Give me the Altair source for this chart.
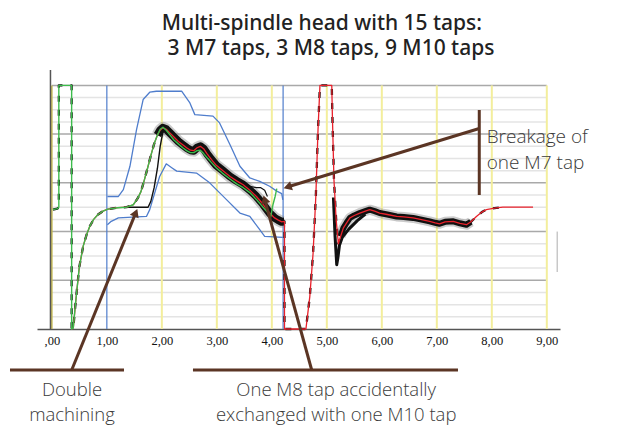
import math
import altair as alt
import pandas as pd

# ---------------- data ----------------
title_lines = ["Multi-spindle head with 15 taps:", "3 M7 taps, 3 M8 taps, 9 M10 taps"]
x_ticks = [0, 1, 2, 3, 4, 5, 6, 7, 8, 9]
yellow_lines = [0, 2, 3, 4, 5, 6, 7, 8, 9]
blue_lines = [1.0, 4.205]
minor_grid = [0.25, 0.5, 0.75, 1.25, 1.5, 1.75, 2.25, 2.5, 2.75, 3.25, 3.5, 3.75,
              4.25, 4.5, 4.75]
major_grid = [1, 2, 3, 4, 5]

# start spike (green + black)
spike_x = [0.02, 0.10, 0.127, 0.127, 0.36]
spike_y = [2.45, 2.47, 2.50, 5.00, 5.00]

# main signal (black bundle / red reference)
main_x = [0.36, 0.39, 0.42, 0.45, 0.50, 0.57, 0.63, 0.69, 0.76, 0.84, 0.93, 1.02, 1.20,
          1.36, 1.48, 1.56, 1.62, 1.68, 1.74, 1.80, 1.86, 1.92, 1.97, 2.02, 2.08, 2.15,
          2.22, 2.30, 2.38, 2.45, 2.52, 2.58, 2.64, 2.70, 2.76, 2.82, 2.90, 2.99, 3.10,
          3.24, 3.36, 3.48, 3.60, 3.72, 3.84, 3.96, 4.05, 4.11, 4.18, 4.23, 4.23, 4.62,
          4.69, 4.75, 4.80, 4.84, 4.875, 5.09, 5.10, 5.13, 5.17, 5.21, 5.25, 5.30, 5.36,
          5.42, 5.50, 5.60, 5.70, 5.78, 5.87, 5.96, 6.10, 6.27, 6.40, 6.57, 6.70, 6.87,
          6.97, 7.05, 7.15, 7.30, 7.42, 7.54, 7.62, 7.72, 7.82, 7.90, 8.05, 8.20, 8.40,
          8.60, 8.75]
main_y = [0.00, 0.02, 0.40, 0.74, 1.28, 1.70, 1.93, 2.11, 2.25, 2.35, 2.42, 2.46, 2.49,
          2.50, 2.55, 2.68, 2.82, 3.05, 3.30, 3.56, 3.80, 3.98, 4.08, 4.13, 4.10, 4.02,
          3.94, 3.85, 3.78, 3.72, 3.67, 3.66, 3.72, 3.75, 3.70, 3.60, 3.48, 3.36, 3.26,
          3.13, 3.04, 2.96, 2.85, 2.72, 2.56, 2.38, 2.28, 2.24, 2.20, 2.21, 0.00, 0.00,
          0.66, 1.55, 2.72, 4.09, 5.00, 5.00, 4.43, 3.06, 2.24, 1.75, 1.90, 2.07, 2.18,
          2.28, 2.33, 2.38, 2.42, 2.45, 2.42, 2.38, 2.35, 2.31, 2.30, 2.28, 2.25, 2.21,
          2.18, 2.16, 2.20, 2.21, 2.17, 2.14, 2.20, 2.31, 2.40, 2.45, 2.48, 2.50, 2.50,
          2.50, 2.50]

# green curve in the band (with the M7 breakage spike at its end)
green_band_x = [1.97, 2.02, 2.08, 2.15, 2.22, 2.30, 2.38, 2.45, 2.52, 2.58, 2.64, 2.70,
                2.76, 2.82, 2.90, 2.99, 3.10, 3.24, 3.36, 3.48, 3.60, 3.72, 3.84, 3.92,
                3.98, 4.02, 4.06, 4.09]
green_band_y = [4.10, 4.14, 4.08, 3.98, 3.88, 3.80, 3.72, 3.66, 3.62, 3.62, 3.66, 3.67,
                3.60, 3.52, 3.42, 3.31, 3.20, 3.08, 2.98, 2.90, 2.80, 2.66, 2.50, 2.40,
                2.30, 2.55, 2.72, 2.88]

# tolerance envelope (blue)
upper_x = [1.01, 1.21, 1.30, 1.42, 1.54, 1.66, 1.78, 1.90, 2.36, 2.51, 2.60, 2.93, 3.05,
           3.24, 3.42, 3.60, 3.78, 3.96, 4.09, 4.18, 4.20]
upper_y = [2.72, 2.72, 2.86, 3.34, 4.09, 4.71, 4.86, 4.88, 4.88, 4.64, 4.40, 4.37, 4.23,
           3.78, 3.34, 3.10, 3.03, 2.93, 2.83, 2.78, 2.65]
lower_x = [1.01, 1.08, 1.21, 1.72, 1.78, 1.96, 2.08, 2.18, 2.27, 2.63, 2.87, 3.18, 3.42,
           3.60, 3.78, 3.87, 4.20]
lower_y = [2.14, 2.21, 2.28, 2.31, 2.45, 3.13, 3.39, 3.31, 3.24, 3.20, 3.00, 2.65, 2.38,
           2.31, 2.04, 1.90, 1.88]

# special black curves
double_x = [1.39, 1.75, 1.80, 1.86, 1.92, 1.97, 2.02]
double_y = [2.50, 2.50, 2.62, 2.90, 3.30, 3.75, 4.05]
break_x = [3.50, 3.60, 3.72, 3.80, 3.87, 3.92]
break_y = [2.98, 2.93, 2.90, 2.90, 2.85, 2.72]
dip_x = [5.12, 5.15, 5.18, 5.20, 5.23, 5.28, 5.40, 5.55, 5.70]
dip_y = [2.70, 1.90, 1.32, 1.45, 1.72, 1.88, 2.05, 2.22, 2.36]

# annotations (data units)
ann_arrows = [  # base x, base y, tip x, tip y
    (0.361, -0.842, 1.557, 2.473),
    (4.725, -0.842, 3.848, 2.750),
    (7.772, 4.115, 4.208, 2.888),
]
ann_bars = [  # x, y, x2, y2
    (-0.761, -0.842, 1.312, -0.842),
    (2.566, -0.842, 7.385, -0.842),
    (7.772, 4.495, 7.772, 2.750),
]
ann_text_center = [
    (0.366, -1.365, "Double\nmachining"),
    (5.17, -1.365, "One M8 tap accidentally\nexchanged with one M10 tap"),
]
ann_text_left = [
    (7.906, 3.818, "Breakage of\none M7 tap"),
]
title_pos = [(4.91, 6.147), (5.075, 5.614)]

# ---------------- layout ----------------
W, H = 523, 259
XDOM = [-0.27, 9.24]
YDOM = [0, 5.316]
PXX = W / (XDOM[1] - XDOM[0])
PXY = H / (YDOM[1] - YDOM[0])

YELLOW = "#f3ee9c"
YELLOW0 = "#c2b54c"
BLUE = "#4f7dcc"
GREEN = "#3dbb4c"
RED = "#e8212b"
BROWN = "#5b3524"
MAJOR = "#a9a9a9"
MINOR = "#e4e4e4"

XS = alt.Scale(domain=XDOM, nice=False, zero=False)
YS = alt.Scale(domain=YDOM, nice=False, zero=False)

x_axis = alt.Axis(
    values=x_ticks,
    labelExpr="datum.value == 0 ? ',00' : replace(format(datum.value, '.2f'), '.', ',')",
    ticks=False, grid=False, domainColor="#555555", domainWidth=1.5,
    labelFont="Liberation Serif", labelFontSize=12.5, labelColor="#111111",
    labelPadding=5, labelFlush=False, title=None,
)


def X(f):
    return alt.X(f, type="quantitative", scale=XS, axis=x_axis)


def Y(f):
    return alt.Y(f, type="quantitative", scale=YS, axis=None)


def path_df(xs, ys):
    return pd.DataFrame({"x": list(xs), "y": list(ys), "i": list(range(len(xs)))})


def line(xs, ys, color, width, opacity=1.0, dash=None):
    kw = dict(color=color, strokeWidth=width, opacity=opacity, strokeJoin="round")
    if dash:
        kw["strokeDash"] = dash
    return alt.Chart(path_df(xs, ys)).mark_line(**kw).encode(
        x=X("x"), y=Y("y"), order="i:Q")


def segs(rows, color, width):
    df = pd.DataFrame(rows, columns=["x", "y", "x2", "y2"])
    return alt.Chart(df).mark_rule(color=color, strokeWidth=width).encode(
        x=X("x"), y=Y("y"), x2="x2:Q", y2="y2:Q")


layers = []

# horizontal grid
layers.append(segs([(0, g, 9, g) for g in minor_grid], MINOR, 1.5))
layers.append(segs([(0, g, 9, g) for g in major_grid], MAJOR, 1.5))

# vertical lines
layers.append(segs([(v, 0, v, 5) for v in yellow_lines[1:]], YELLOW, 2))
layers.append(segs([(v, 0, v, 5) for v in yellow_lines[:1]], YELLOW0, 1.5))
layers.append(segs([(v, 0, v, 5) for v in blue_lines], BLUE, 1.2))
layers.append(segs([(9.19, 1.17, 9.19, 2.0)], "#c8c8c8", 1.5))

# envelopes
layers.append(line(upper_x, upper_y, BLUE, 1.3))
layers.append(line(lower_x, lower_y, BLUE, 1.3))

# black bundle
band_a = [(x, y) for x, y in zip(main_x, main_y) if 1.9 <= x <= 4.23 and y > 1]
band_b = [(x, y) for x, y in zip(main_x, main_y) if 5.25 <= x <= 7.7]
for seg, w in ((band_a, 8), (band_b, 6)):
    xs, ys = zip(*seg)
    layers.append(line(xs, ys, "#808080", w + 4, 0.4))
for seg, w in ((band_a, 8), (band_b, 6)):
    xs, ys = zip(*seg)
    layers.append(line(xs, ys, "#111111", w))
bundle = [(x, y) for x, y in zip(spike_x + main_x, spike_y + main_y) if x <= 8.3]
bx, by = zip(*bundle)
layers.append(line(bx, by, "#111111", 2.3, dash=[6, 8]))
layers.append(line(double_x, double_y, "#111111", 1.4))
layers.append(line(break_x, break_y, "#111111", 1.2))
layers.append(line(dip_x, dip_y, "#111111", 3))

# red and green
layers.append(line(main_x, main_y, RED, 1.3))
layers.append(line(spike_x + main_x[:22] + green_band_x,
                   spike_y + main_y[:22] + green_band_y, GREEN, 1.4))

# y axis line
layers.append(segs([(-0.025, 0, -0.025, YDOM[1])], "#555555", 1.5))

# annotation lines and arrowheads
seg_rows, head_rows = [], []
for xb, yb, xt, yt in ann_arrows:
    dxp = (xt - xb) * PXX
    dyp = -(yt - yb) * PXY
    L = math.hypot(dxp, dyp)
    ux, uy = dxp / L, dyp / L
    seg_rows.append((xb, yb, xt - ux * 6 / PXX, yt + uy * 6 / PXY))
    head_rows.append({"x": xt - ux * 4.5 / PXX, "y": yt + uy * 4.5 / PXY,
                      "angle": math.degrees(math.atan2(ux, -uy)) % 360})
for row in ann_bars:
    seg_rows.append(row)

layers.append(segs(seg_rows, BROWN, 3))
layers.append(alt.Chart(pd.DataFrame(head_rows)).mark_point(
    shape="triangle-up", filled=True, size=90, color=BROWN, opacity=1).encode(
    x=X("x"), y=Y("y"), angle=alt.Angle("angle:Q", scale=None)))

# texts
layers.append(alt.Chart(pd.DataFrame(ann_text_center, columns=["x", "y", "t"])).mark_text(
    align="center", baseline="alphabetic", font="Open Sans", fontWeight=300, fontSize=18.5,
    lineBreak="\n", lineHeight=25.5, color="#3a3a3a").encode(x=X("x"), y=Y("y"), text="t:N"))
layers.append(alt.Chart(pd.DataFrame(ann_text_left, columns=["x", "y", "t"])).mark_text(
    align="left", baseline="alphabetic", font="Open Sans", fontWeight=300, fontSize=19,
    lineBreak="\n", lineHeight=26, color="#3a3a3a").encode(x=X("x"), y=Y("y"), text="t:N"))
layers.append(alt.Chart(pd.DataFrame(
    [(p[0], p[1], t) for p, t in zip(title_pos, title_lines)], columns=["x", "y", "t"])
).mark_text(
    align="center", baseline="alphabetic", font="Noto Sans", fontWeight=500, fontSize=21,
    color="#222222").encode(x=X("x"), y=Y("y"), text="t:N"))

chart = alt.layer(*layers).properties(
    width=W, height=H,
    autosize=alt.AutoSizeParams(type="none"),
    padding={"left": 29, "top": 62, "right": 45, "bottom": 99},
).configure_view(stroke=None)

chart.save("out.html", embed_options={"renderer": "svg", "actions": False})
